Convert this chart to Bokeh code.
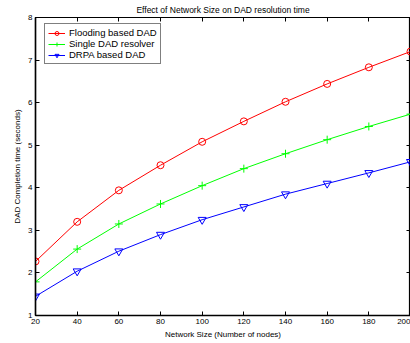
from bokeh.plotting import figure
from bokeh.models import LinearAxis, FixedTicker, Range1d, Legend, LegendItem
from bokeh.embed import file_html
from bokeh.resources import INLINE

network_size = [20, 40, 60, 80, 100, 120, 140, 160, 180, 200]
flooding = [2.27, 3.20, 3.94, 4.53, 5.08, 5.56, 6.02, 6.44, 6.83, 7.20]
single = [1.79, 2.56, 3.15, 3.62, 4.05, 4.45, 4.80, 5.13, 5.44, 5.73]
drpa = [1.45, 2.04, 2.51, 2.90, 3.25, 3.55, 3.85, 4.10, 4.35, 4.61]
x_ticks = [20, 40, 60, 80, 100, 120, 140, 160, 180, 200]
y_ticks = [1, 2, 3, 4, 5, 6, 7, 8]

FONT = "Liberation Sans"

p = figure(width=410, height=343, output_backend="svg", toolbar_location=None,
           x_range=Range1d(20, 200), y_range=Range1d(1, 8),
           min_border_left=35, min_border_right=0, min_border_top=17, min_border_bottom=28,
           title="Effect of Network Size on DAD resolution time")
p.title.align = "center"
p.title.text_font = FONT
p.title.text_font_size = "8.5px"
p.title.text_font_style = "normal"
p.title.text_color = "black"
p.title.standoff = 5
p.grid.visible = False
p.outline_line_color = "black"
p.outline_line_width = 1.2
p.background_fill_color = "white"
p.border_fill_color = "white"

for ax in (p.xaxis[0], p.yaxis[0]):
    ax.major_tick_in = 4
    ax.major_tick_out = 0
    ax.minor_tick_line_color = None
    ax.axis_line_color = "black"
    ax.axis_line_width = 1.5
    ax.major_tick_line_color = "black"
    ax.major_label_text_font = FONT
    ax.major_label_text_font_size = "8px"
    ax.major_label_text_color = "black"
    ax.axis_label_text_font = FONT
    ax.axis_label_text_font_size = "8px"
    ax.axis_label_text_font_style = "normal"
    ax.axis_label_text_color = "black"
    ax.major_label_standoff = 3

p.xaxis[0].ticker = FixedTicker(ticks=x_ticks)
p.yaxis[0].ticker = FixedTicker(ticks=y_ticks)
p.xaxis[0].axis_label = "Network Size (Number of nodes)"
p.yaxis[0].axis_label = "DAD Completion time (seconds)"
p.xaxis[0].axis_label_standoff = 3
p.yaxis[0].axis_label_standoff = 3

top = LinearAxis(ticker=FixedTicker(ticks=x_ticks), major_label_text_font_size="1px",
                 major_label_text_color=None,
                 major_tick_in=4, major_tick_out=0, minor_tick_line_color=None,
                 axis_line_color="black", major_label_standoff=0)
right = LinearAxis(ticker=FixedTicker(ticks=y_ticks), major_label_text_font_size="1px",
                   major_label_text_color=None,
                   major_tick_in=4, major_tick_out=0, minor_tick_line_color=None,
                   axis_line_color="black", major_label_standoff=0)
p.add_layout(top, "above")
p.add_layout(right, "right")

r1l = p.line(network_size, flooding, line_color="#ff0000", line_width=1)
r1m = p.scatter(network_size, flooding, marker="circle", size=7, line_color="#ff0000",
                fill_color=None, line_width=1)
r2l = p.line(network_size, single, line_color="#00ff00", line_width=1)
r2m = p.scatter(network_size, single, marker="cross", size=8, line_color="#00ff00",
                line_width=1)
r3l = p.line(network_size, drpa, line_color="#0000ff", line_width=1)
r3m = p.scatter(network_size, drpa, marker="inverted_triangle", size=8, line_color="#0000ff",
                fill_color=None, line_width=1)

legend = Legend(items=[
    LegendItem(label="Flooding based DAD", renderers=[r1l, r1m]),
    LegendItem(label="Single DAD resolver", renderers=[r2l, r2m]),
    LegendItem(label="DRPA based DAD", renderers=[r3l, r3m]),
], location=(9, 251))
legend.margin = 0
legend.padding = 3
legend.spacing = 0
legend.label_height = 10
legend.glyph_height = 10
legend.glyph_width = 17
legend.label_standoff = 4
legend.label_text_font = FONT
legend.label_text_font_size = "9.5px"
legend.label_text_color = "black"
legend.border_line_color = "black"
legend.border_line_width = 1.5
legend.background_fill_alpha = 1
p.add_layout(legend, "center")

open("out.html", "w").write(file_html(p, INLINE))
